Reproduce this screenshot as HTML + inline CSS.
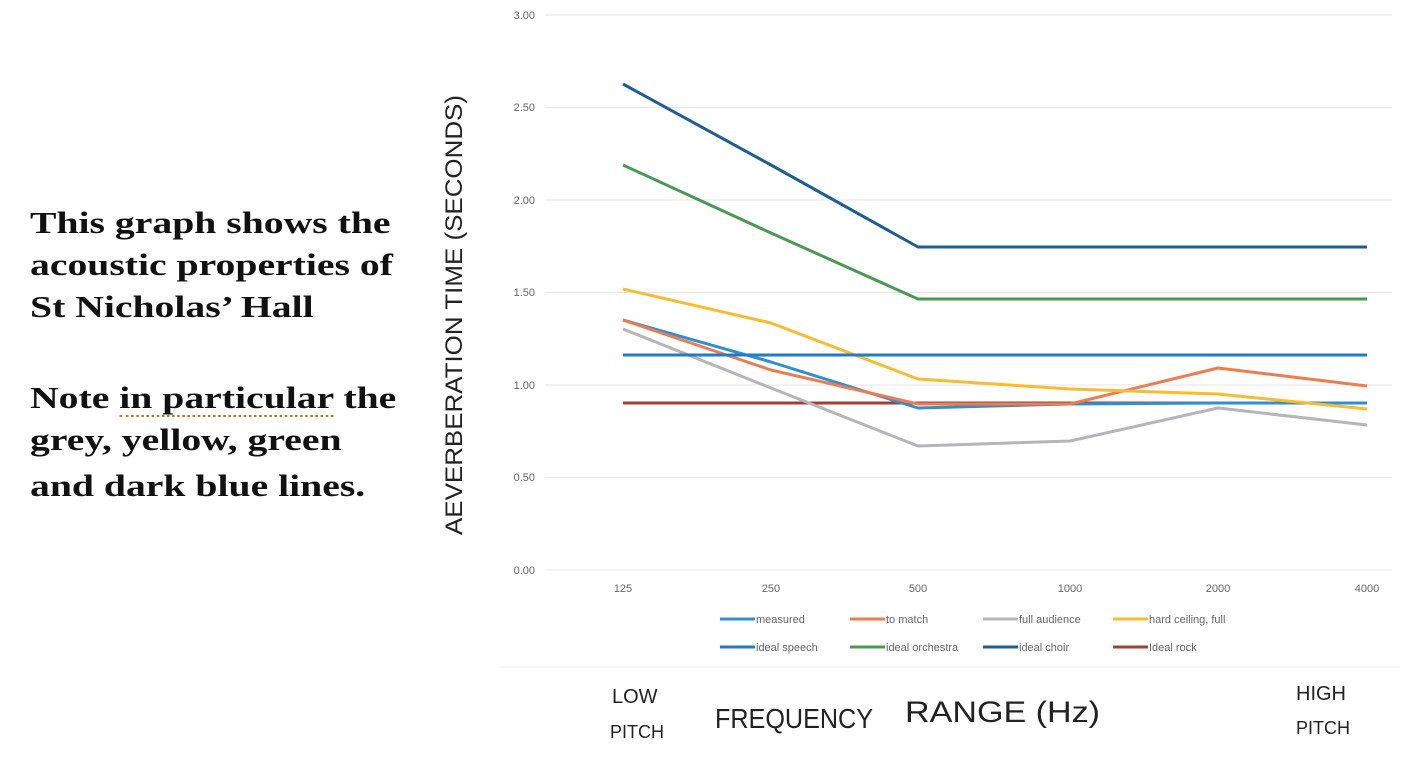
<!DOCTYPE html>
<html><head><meta charset="utf-8"><style>
body{margin:0;width:1406px;height:768px;background:#fff;overflow:hidden;position:relative;font-family:"Liberation Sans",sans-serif}
.t{position:absolute;left:30px;font-family:"Liberation Serif",serif;font-weight:bold;font-size:31px;color:#111;line-height:42px;transform:scaleX(1.28);transform-origin:0 0;white-space:nowrap}
</style></head><body>
<div class="t" style="top:202px">This graph shows the<br>acoustic properties of<br>St Nicholas’ Hall</div>
<div class="t" style="top:377px">Note <span style="border-bottom:2px dotted #b07a20">in particular</span> the<br>grey, yellow, green<br><span style="line-height:50px">and dark blue lines.</span></div>
<svg width="1406" height="768" style="position:absolute;left:0;top:0" font-family="Liberation Sans, sans-serif">
<g stroke="#e6e6e6" stroke-width="1">
<line x1="545" x2="1392" y1="15" y2="15"/><line x1="545" x2="1392" y1="107.5" y2="107.5"/>
<line x1="545" x2="1392" y1="200" y2="200"/><line x1="545" x2="1392" y1="292.5" y2="292.5"/>
<line x1="545" x2="1392" y1="385" y2="385"/><line x1="545" x2="1392" y1="477.5" y2="477.5"/>
<line x1="545" x2="1392" y1="570" y2="570"/>
<line x1="500" x2="1400" y1="667" y2="667" stroke="#eee"/>
</g>
<g font-size="11" fill="#666" text-anchor="end">
<text x="535" y="19">3.00</text><text x="535" y="111">2.50</text><text x="535" y="204">2.00</text>
<text x="535" y="296">1.50</text><text x="535" y="389">1.00</text><text x="535" y="481">0.50</text><text x="535" y="574">0.00</text>
</g>
<g font-size="11" fill="#666" text-anchor="middle">
<text x="623" y="592">125</text><text x="771" y="592">250</text><text x="918" y="592">500</text>
<text x="1070" y="592">1000</text><text x="1218" y="592">2000</text><text x="1367" y="592">4000</text>
</g>
<g fill="none" stroke-width="3" stroke-linejoin="round">
<polyline stroke="#a43e34" points="623,403 771,403 918,403 1070,403 1218,403 1367,403"/>
<polyline stroke="#2f8fd6" points="623,320 771,362 918,408 1070,404 1218,403 1367,403"/>
<polyline stroke="#ed7d4e" points="623,320 771,370 918,404 1070,404 1218,368 1367,386"/>
<polyline stroke="#b7b4ba" points="623,329 771,388 918,446 1070,441 1218,408 1367,425"/>
<polyline stroke="#f7bd2e" points="623,289 771,323 918,379 1070,389 1218,394 1367,409"/>
<polyline stroke="#1e7ccc" points="623,355 1367,355"/>
<polyline stroke="#4a9a52" points="623,165 771,233 918,299 1367,299"/>
<polyline stroke="#1c5e9a" points="623,84 771,165 918,247 1367,247"/>
</g>
<g font-size="11" fill="#666">
<line x1="720" x2="755" y1="619" y2="619" stroke="#2f8fd6" stroke-width="3"/><text x="756" y="623">measured</text>
<line x1="850" x2="885" y1="619" y2="619" stroke="#ed7d4e" stroke-width="3"/><text x="886" y="623">to match</text>
<line x1="983" x2="1018" y1="619" y2="619" stroke="#b7b4ba" stroke-width="3"/><text x="1019" y="623">full audience</text>
<line x1="1113" x2="1148" y1="619" y2="619" stroke="#f7bd2e" stroke-width="3"/><text x="1149" y="623">hard ceiling, full</text>
<line x1="720" x2="755" y1="647" y2="647" stroke="#1e7ccc" stroke-width="3"/><text x="756" y="651">ideal speech</text>
<line x1="850" x2="885" y1="647" y2="647" stroke="#4a9a52" stroke-width="3"/><text x="886" y="651">ideal orchestra</text>
<line x1="983" x2="1018" y1="647" y2="647" stroke="#1c5e9a" stroke-width="3"/><text x="1019" y="651">ideal choir</text>
<line x1="1113" x2="1148" y1="647" y2="647" stroke="#a43e34" stroke-width="3"/><text x="1149" y="651">Ideal rock</text>
</g>
<g fill="#222" font-size="24">
<text transform="translate(462,535) rotate(-90)" textLength="440" lengthAdjust="spacingAndGlyphs">AEVERBERATION  TIME  (SECONDS)</text>
<text x="612" y="703" font-size="20">LOW</text><text x="610" y="738" font-size="18">PITCH</text>
<text x="715" y="728" font-size="28" textLength="158" lengthAdjust="spacingAndGlyphs">FREQUENCY</text>
<text x="905" y="722" font-size="30" textLength="195" lengthAdjust="spacingAndGlyphs">RANGE (Hz)</text>
<text x="1296" y="700" font-size="20">HIGH</text><text x="1296" y="734" font-size="18">PITCH</text>
</g>
</svg>
</body></html>
